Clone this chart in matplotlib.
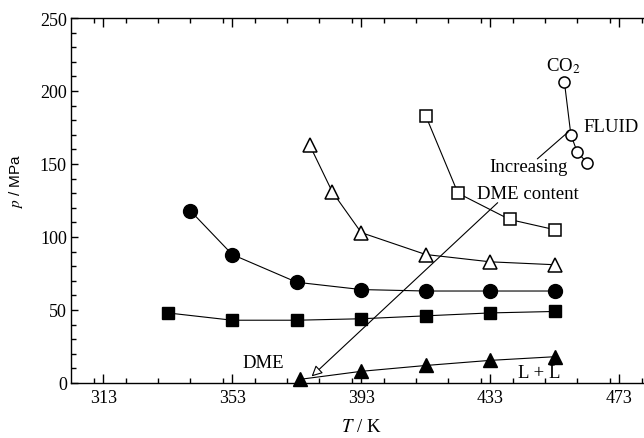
import matplotlib
matplotlib.use("Agg")
import matplotlib.pyplot as plt
from matplotlib.ticker import MultipleLocator, FixedLocator

# phase boundary data, T in K and p in MPa
T_fill_sq = [333, 353, 373, 393, 413, 433, 453]
p_fill_sq = [48, 43, 43, 44, 46, 48, 49]

T_fill_tri = [374, 393, 413, 433, 453]
p_fill_tri = [2.5, 8, 12, 15.5, 18]

T_fill_circ = [340, 353, 373, 393, 413, 433, 453]
p_fill_circ = [118, 88, 69, 64, 63, 63, 63]

T_open_tri = [377, 384, 393, 413, 433, 453]
p_open_tri = [163, 131, 103, 88, 83, 81]

T_open_sq = [413, 423, 439, 453]
p_open_sq = [183, 130, 112, 105]

T_co2 = [456, 458, 460, 463]
p_co2 = [206, 170, 158, 151]

x_ticks = [313, 353, 393, 433, 473]

plt.rcParams['font.family'] = ['Liberation Serif', 'DejaVu Serif']
plt.rcParams['mathtext.fontset'] = 'stix'

fig = plt.figure(figsize=(6.44, 4.39), dpi=100)
ax = fig.add_axes([71 / 644, 55 / 439, 580.5 / 644, 365 / 439])

lw = 0.8
ax.plot(T_fill_sq, p_fill_sq, '-', color='black', lw=lw, marker='s', ms=8.8,
        mfc='black', mec='black')
ax.plot(T_fill_tri, p_fill_tri, '-', color='black', lw=lw, marker='^', ms=9.5,
        mfc='black', mec='black', clip_on=False, zorder=4)
ax.plot(T_fill_circ, p_fill_circ, '-', color='black', lw=lw, marker='o', ms=10,
        mfc='black', mec='black')
ax.plot(T_open_tri, p_open_tri, '-', color='black', lw=lw, marker='^', ms=10.5,
        mfc='white', mec='black', mew=1.1)
ax.plot(T_open_sq, p_open_sq, '-', color='black', lw=lw, marker='s', ms=9,
        mfc='white', mec='black', mew=1.1)
ax.plot(T_co2, p_co2, '-', color='black', lw=lw, marker='o', ms=8,
        mfc='white', mec='black', mew=1.1)

# annotations
fs = 13.5
ax.text(455.7, 218, 'CO$_2$', fontsize=fs, ha='center', va='center')
ax.text(461.8, 176, 'FLUID', fontsize=fs, ha='left', va='center')
ax.text(444.9, 148, 'Increasing', fontsize=fs, ha='center', va='center')
ax.text(444.7, 130, 'DME content', fontsize=fs, ha='center', va='center')
ax.text(362.5, 14, 'DME', fontsize=fs, ha='center', va='center')
ax.text(448.3, 7, 'L + L', fontsize=fs, ha='center', va='center')

ax.annotate('', xy=(377.6, 4.5), xytext=(435.3, 123.5),
            arrowprops=dict(arrowstyle='-|>', fc='white', ec='black',
                            lw=0.8, mutation_scale=16, shrinkA=0, shrinkB=0))
ax.annotate('', xy=(457.2, 172), xytext=(447.6, 153.5),
            arrowprops=dict(arrowstyle='-', ec='black', lw=0.8,
                            shrinkA=0, shrinkB=0))

ax.set_xlim(303, 483)
ax.set_ylim(0, 250)
ax.xaxis.set_major_locator(FixedLocator(x_ticks))
ax.xaxis.set_minor_locator(MultipleLocator(10))
ax.yaxis.set_major_locator(MultipleLocator(50))
ax.yaxis.set_minor_locator(MultipleLocator(10))

ax.tick_params(which='both', direction='in', top=True, right=True,
               labelsize=13, width=1)
ax.tick_params(axis='x', which='major', length=6.5, pad=4)
ax.tick_params(axis='x', which='minor', length=3.4)
ax.tick_params(axis='y', which='major', length=4.7, pad=3)
ax.tick_params(axis='y', which='minor', length=3.6)
for s in ax.spines.values():
    s.set_linewidth(1.0)

ax.set_xlabel('$T$ / K', fontsize=13.5)
ax.xaxis.set_label_coords(0.5, -0.095)
ax.set_ylabel('$p$ / MPa', fontsize=11, family=['Liberation Sans', 'DejaVu Sans'])
ax.yaxis.set_label_coords(-0.079, 0.556)

fig.savefig('out.png', dpi=100)
